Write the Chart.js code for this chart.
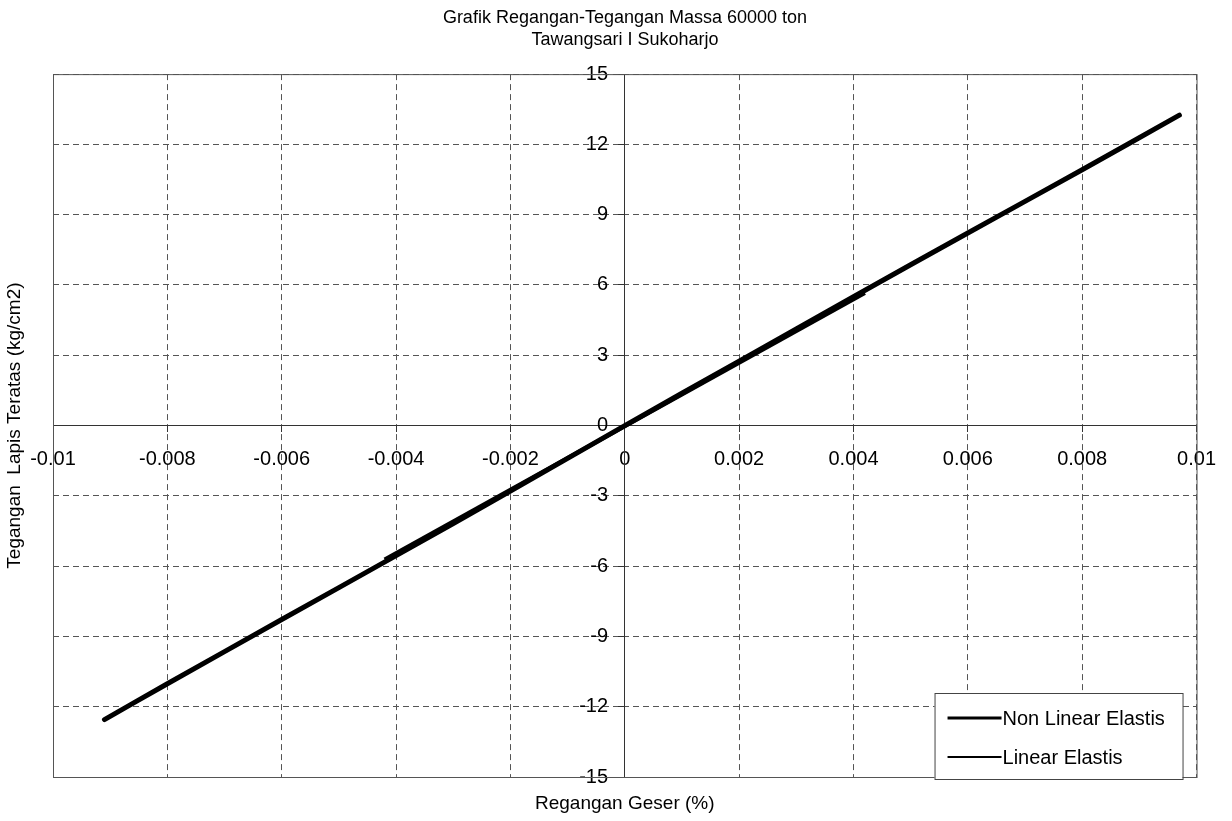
<!DOCTYPE html>
<html>
<head>
<meta charset="utf-8">
<script src="https://cdn.jsdelivr.net/npm/chart.js@4/dist/chart.umd.min.js"></script>
<style>
  body{margin:0;background:#fff;}
  #wrap{width:1232px;height:821px;}
</style>
</head>
<body>
<div id="wrap"><canvas id="chart" width="1232" height="821"></canvas></div>
<script>
// data
const titleLines = ["Grafik Regangan-Tegangan Massa 60000 ton", "Tawangsari I Sukoharjo"];
const xTitle = "Regangan Geser (%)";
const yTitle = "Tegangan  Lapis Teratas (kg/cm2)";

const nonLinX = [-0.0091, -0.008, -0.006, -0.004, -0.002, 0, 0.002, 0.004, 0.006, 0.008, 0.0097];
const nonLinY = [-12.55, -11.02, -8.28, -5.55, -2.8, 0, 2.75, 5.5, 8.22, 10.92, 13.25];
const linX = [-0.0042, 0.0042];
const linY = [-5.72, 5.66];

const xTicks = [-0.01, -0.008, -0.006, -0.004, -0.002, 0, 0.002, 0.004, 0.006, 0.008, 0.01];
const yTicks = [-15, -12, -9, -6, -3, 0, 3, 6, 9, 12, 15];

function pts(xs, ys){
  let out=[];
  for(let i=0;i<xs.length;i++) out.push({x:xs[i], y:ys[i]});
  return out;
}

const FONT = "'Liberation Sans', Arial, sans-serif";

// frame round the plot, axis titles and the legend box
const extras = {
  id: "extras",
  afterDraw(chart){
    let ctx=chart.ctx;
    let a=chart.chartArea;
    ctx.save();
    ctx.strokeStyle="#555";
    ctx.lineWidth=1;
    ctx.strokeRect(a.left+0.5, a.top+0.5, a.right-a.left, a.bottom-a.top);

    ctx.fillStyle="#000";
    ctx.font="19px " + FONT;
    ctx.textAlign="center";
    ctx.textBaseline="middle";
    ctx.fillText(xTitle, (a.left+a.right)/2, a.bottom+27);

    ctx.save();
    ctx.translate(15, (a.top+a.bottom)/2);
    ctx.rotate(-Math.PI/2);
    ctx.fillText(yTitle, 0, 0);
    ctx.restore();

    // legend
    let w=248, h=86;
    let lx=a.right-14-w, ly=a.bottom+2-h;
    ctx.fillStyle="#fff";
    ctx.fillRect(lx, ly, w, h);
    ctx.strokeStyle="#444";
    ctx.strokeRect(lx+0.5, ly+0.5, w, h);
    let ds=chart.data.datasets;
    for(let i=0;i<ds.length;i++){
      let yy=ly+25+i*39;
      ctx.strokeStyle="#000";
      ctx.lineWidth=i==0?3:2;
      ctx.beginPath();
      ctx.moveTo(lx+13, yy);
      ctx.lineTo(lx+67, yy);
      ctx.stroke();
      ctx.fillStyle="#000";
      ctx.font="20px " + FONT;
      ctx.textAlign="left";
      ctx.fillText(ds[i].label, lx+68, yy+1);
    }
    ctx.restore();
  }
};

const chartX = document.getElementById("chart").getContext("2d");
const config = new Chart(chartX, {
  type: "scatter",
  data: {
    datasets: [{
      label: "Non Linear Elastis",
      data: pts(nonLinX, nonLinY),
      showLine: true,
      borderColor: "#000",
      backgroundColor: "#000",
      borderWidth: 5,
      pointRadius: 0,
      tension: 0.3,
      borderCapStyle: "round"
    },
    {
      label: "Linear Elastis",
      data: pts(linX, linY),
      showLine: true,
      borderColor: "#000",
      backgroundColor: "#000",
      borderWidth: 4,
      pointRadius: 0
    }]
  },
  options: {
    responsive: false,
    animation: false,
    layout: { padding: { left: 53, right: 35, top: 0, bottom: 44 } },
    plugins: {
      legend: { display: false },
      tooltip: { enabled: false },
      title: {
        display: true,
        text: titleLines,
        color: "#000",
        font: { family: FONT, size: 18, weight: "normal", lineHeight: 1.17 },
        padding: { top: 8, bottom: 24 }
      }
    },
    scales: {
      x: {
        type: "linear",
        position: { y: 0 },
        min: -0.01, max: 0.01,
        afterBuildTicks: (s) => { s.ticks = xTicks.map(v => ({value: v})); },
        grid: { color: "#555", lineWidth: 1, tickLength: 6, tickColor: "#333" },
        border: { display: true, color: "#333", width: 1, dash: [6, 4] },
        ticks: {
          color: "#000", autoSkip: false, maxRotation: 0, padding: 16,
          font: { family: FONT, size: 20 },
          callback: (v) => String(+Number(v).toFixed(4))
        }
      },
      y: {
        type: "linear",
        position: { x: 0 },
        min: -15, max: 15,
        afterBuildTicks: (s) => { s.ticks = yTicks.map(v => ({value: v})); },
        grid: { color: "#555", lineWidth: 1, tickLength: 6, tickColor: "#333" },
        border: { display: true, color: "#333", width: 1, dash: [6, 4] },
        ticks: {
          color: "#000", autoSkip: false, padding: 8,
          font: { family: FONT, size: 20 },
          // labels sit right-aligned on a centred axis, spaces keep them off the line
          callback: (v) => String(v) + "   "
        }
      }
    }
  },
  plugins: [extras]
});
</script>
</body>
</html>
